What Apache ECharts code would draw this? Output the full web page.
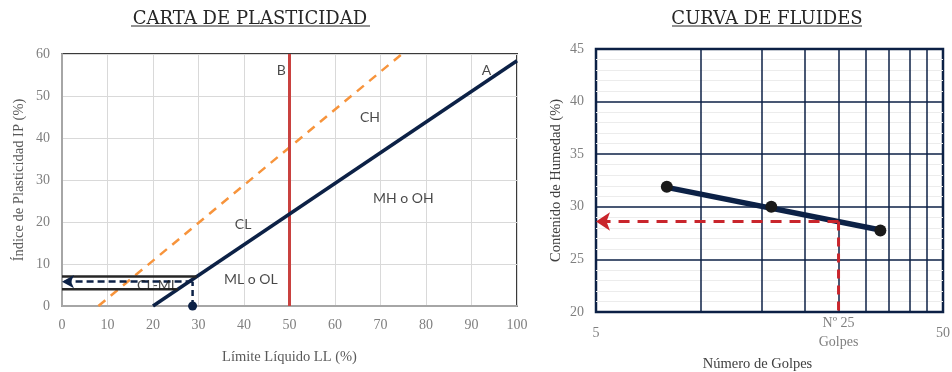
<!DOCTYPE html>
<html>
<head>
<meta charset="utf-8">
<script src="https://cdn.jsdelivr.net/npm/echarts@6/dist/echarts.min.js"></script>
<style>
  html, body { margin: 0; padding: 0; background: #fff; }
  #chart { width: 952px; height: 372px; }
</style>
</head>
<body>
<div id="chart"></div>
<script>
// ---- Carta de plasticidad ----
const lineA = [[20, 0], [100, 58.4]];      // línea A
const lineU = [[8, 0], [74.7, 60]];         // línea U (discontinua)
const lineB = [[50, 0], [50, 60]];          // LL = 50
const clmlTop = [[0, 7], [29.6, 7]];
const clmlBottom = [[0, 4], [25.5, 4]];
const llSample = 28.7;   // límite líquido
const ipSample = 5.8;    // índice de plasticidad
const zoneNames = ['B', 'A', 'CH', 'MH o OH', 'CL', 'ML o OL', 'CL-ML'];
const zoneLL = [48.2, 93.3, 67.7, 75, 39.8, 41.5, 21];
const zoneIP = [56, 56, 44.8, 25.7, 19.3, 6.2, 4.8];

// ---- Curva de fluidez ----
const golpes = [8, 16, 33];
const humedad = [31.9, 30.0, 27.75];
const trendX = [8, 33];
const trendY = [31.85, 27.8];
const golpesRef = 25;
const humedadAt25 = 28.6;
const gridGolpes = [10, 15, 20, 25, 30, 35, 40, 45];
const golpesLabels = [5, 25, 50];

const serif = "Liberation Serif";
const titleFont = "DejaVu Serif";
const sans = "Lato";
const navy = "#0c2146";

const chart = echarts.init(document.getElementById("chart"));

const option = {
  animation: false,
  title: [
    { text: "CARTA DE PLASTICIDAD", left: 245, top: 5, textAlign: "center",
      textStyle: { fontFamily: titleFont, fontSize: 18, fontWeight: "normal", color: "#262626" } },
    { text: "CURVA DE FLUIDES", left: 762, top: 5, textAlign: "center",
      textStyle: { fontFamily: titleFont, fontSize: 18, fontWeight: "normal", color: "#262626" } }
  ],
  graphic: [
    { type: "line", shape: { x1: 131, y1: 26, x2: 370, y2: 26 }, style: { stroke: "#262626", lineWidth: 1.2 } },
    { type: "line", shape: { x1: 672, y1: 26, x2: 862, y2: 26 }, style: { stroke: "#262626", lineWidth: 1.2 } }
  ],
  grid: [
    { left: 62, right: 435, top: 54, bottom: 66, show: true, borderColor: "#3a3a3a", borderWidth: 2,
      outerBoundsMode: "none" },
    { left: 596, right: 9, top: 49, bottom: 60, show: true, borderColor: navy, borderWidth: 2.5,
      outerBoundsMode: "none" }
  ],
  xAxis: [
    {
      gridIndex: 0, type: "value", min: 0, max: 100, interval: 10,
      name: "Límite Líquido LL (%)", nameLocation: "middle", nameGap: 44,
      nameTextStyle: { fontFamily: serif, fontSize: 14.5, color: "#595959" },
      axisLine: { lineStyle: { color: "#a6a6a6", width: 2 } },
      axisTick: { show: false },
      axisLabel: { fontFamily: serif, fontSize: 14, color: "#7f7f7f", margin: 12 },
      splitLine: { lineStyle: { color: "#d9d9d9", width: 1 } }
    },
    {
      gridIndex: 1, type: "log", logBase: 10, min: 5, max: 50,
      name: "Número de Golpes", nameLocation: "middle", nameGap: 44,
      nameTextStyle: { fontFamily: serif, fontSize: 14.5, color: "#404040", padding: [0, 24, 0, 0] },
      axisLine: { show: false },
      axisTick: { show: false },
      splitLine: { show: false },
      axisLabel: {
        customValues: golpesLabels,
        verticalAlign: "middle",
        fontFamily: serif, fontSize: 14, color: "#7f7f7f", margin: 21, lineHeight: 19,
        formatter: (v) => (Math.round(v) === golpesRef ? "Nº 25\nGolpes" : String(Math.round(v)))
      }
    }
  ],
  yAxis: [
    {
      gridIndex: 0, type: "value", min: 0, max: 60, interval: 10,
      name: "Índice de Plasticidad IP (%)", nameLocation: "middle", nameGap: 35,
      nameTextStyle: { fontFamily: serif, fontSize: 14.5, color: "#595959" },
      axisLine: { show: true, lineStyle: { color: "#a6a6a6", width: 2 } },
      axisTick: { show: false },
      axisLabel: { fontFamily: serif, fontSize: 14, color: "#7f7f7f", margin: 12 },
      splitLine: { lineStyle: { color: "#d9d9d9", width: 1 } }
    },
    {
      gridIndex: 1, type: "value", min: 20, max: 45, interval: 5,
      name: "Contenido de Humedad (%)", nameLocation: "middle", nameGap: 32,
      nameTextStyle: { fontFamily: serif, fontSize: 14.5, color: "#404040" },
      axisLine: { show: false },
      axisTick: { show: false },
      axisLabel: { fontFamily: serif, fontSize: 14, color: "#7f7f7f", margin: 12 },
      splitLine: { lineStyle: { color: navy, width: 1.5 } },
      minorTick: { show: false, splitNumber: 5 },
      minorSplitLine: { show: true, lineStyle: { color: "#ececec", width: 1 } }
    }
  ],
  series: [
    // ---- plasticidad ----
    { type: "line", xAxisIndex: 0, yAxisIndex: 0, data: lineU, symbol: "none",
      lineStyle: { color: "#f7943c", width: 2.5, type: [9, 7] }, z: 3 },
    { type: "line", xAxisIndex: 0, yAxisIndex: 0, data: lineB, symbol: "none",
      lineStyle: { color: "#c9413f", width: 3 }, z: 3 },
    { type: "line", xAxisIndex: 0, yAxisIndex: 0, data: lineA, symbol: "none",
      lineStyle: { color: navy, width: 3.5 }, z: 4 },
    { type: "line", xAxisIndex: 0, yAxisIndex: 0, data: clmlTop, symbol: "none",
      lineStyle: { color: "#262626", width: 2.5 }, z: 4 },
    { type: "line", xAxisIndex: 0, yAxisIndex: 0, data: clmlBottom, symbol: "none",
      lineStyle: { color: "#262626", width: 2.5 }, z: 4 },
    {
      type: "line", xAxisIndex: 0, yAxisIndex: 0, z: 5,
      data: [
        { value: [llSample, 0], symbol: "circle", symbolSize: 9 },
        { value: [llSample, ipSample], symbol: "none" }
      ],
      itemStyle: { color: navy },
      lineStyle: { color: navy, width: 2.5, type: [6, 4] },
      markLine: {
        silent: true, symbol: ["none", "arrow"], symbolSize: [10, 12],
        label: { show: false },
        lineStyle: { color: navy, width: 2.5, type: [7, 4] },
        data: [[{ coord: [llSample, ipSample] }, { coord: [0, ipSample] }]]
      }
    },
    {
      type: "scatter", xAxisIndex: 0, yAxisIndex: 0, symbolSize: 0, z: 6,
      data: zoneNames.map((n, i) => ({ name: n, value: [zoneLL[i], zoneIP[i]] })),
      label: { show: true, position: "inside", formatter: "{b}", fontFamily: sans, fontSize: 14, color: "#1a1a1a" }
    },
    // ---- curva de fluidez ----
    {
      type: "line", xAxisIndex: 1, yAxisIndex: 1, data: golpes.map((g, i) => [g, humedad[i]]),
      symbol: "none", lineStyle: { color: "#1fa3e0", width: 1.5 }, z: 3
    },
    {
      type: "line", xAxisIndex: 1, yAxisIndex: 1, data: trendX.map((x, i) => [x, trendY[i]]),
      symbol: "none", lineStyle: { color: navy, width: 5.5 }, z: 4,
      markLine: {
        silent: true, symbol: "none", label: { show: false },
        lineStyle: { color: navy, width: 1.5, type: "solid" },
        data: gridGolpes.map((g) => ({ xAxis: g }))
      }
    },
    {
      type: "scatter", xAxisIndex: 1, yAxisIndex: 1, data: golpes.map((g, i) => [g, humedad[i]]),
      symbol: "circle", symbolSize: 12, itemStyle: { color: "#1a1a1a", opacity: 1 }, z: 6
    },
    {
      type: "line", xAxisIndex: 1, yAxisIndex: 1, symbol: "none", z: 5,
      data: [[golpesRef, humedadAt25], [golpesRef, 20]],
      lineStyle: { color: "#c9252c", width: 3, type: [9, 7] },
      markLine: {
        silent: true, symbol: ["none", "arrow"], symbolSize: [14, 14],
        label: { show: false },
        lineStyle: { color: "#c9252c", width: 3, type: [11, 8] },
        data: [[{ coord: [golpesRef, humedadAt25] }, { coord: [5, humedadAt25] }]]
      }
    }
  ]
};

chart.setOption(option);
window.addEventListener("resize", () => chart.resize());
</script>
</body>
</html>
